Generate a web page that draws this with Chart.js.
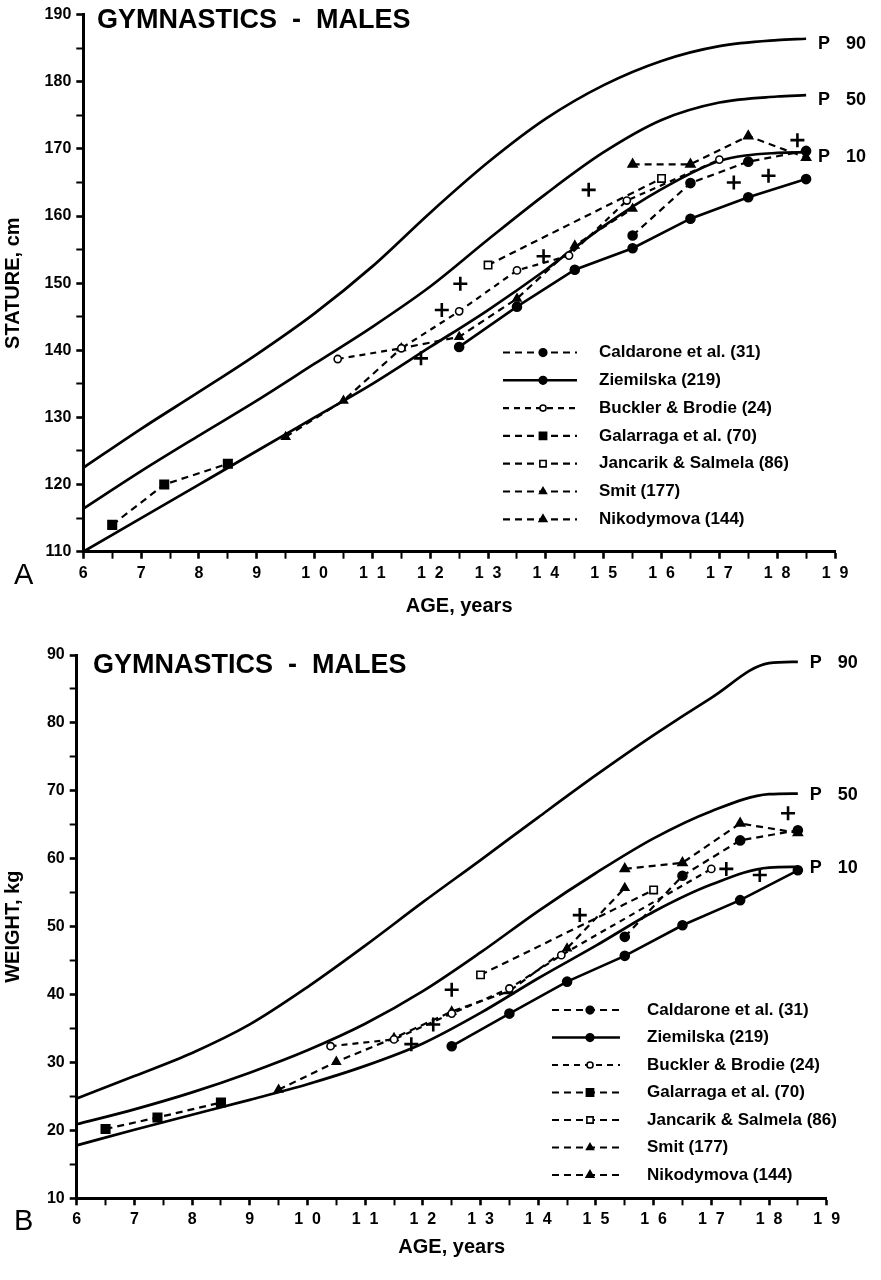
<!DOCTYPE html>
<html>
<head>
<meta charset="utf-8">
<title>Gymnastics - males: stature and weight</title>
<script src="https://cdn.jsdelivr.net/npm/chart.js@4.4.1/dist/chart.umd.min.js"></script>
<style>
  html, body { margin: 0; padding: 0; background: #fff; }
  #wrap { position: relative; width: 881px; height: 1280px; }
  #stature { position: absolute; left: 0; top: 0; }
  #weight { position: absolute; left: 0; top: 640px; }
</style>
</head>
<body>
<div id="wrap">
  <canvas id="stature" width="881" height="630"></canvas>
  <canvas id="weight" width="881" height="640"></canvas>
</div>
<script>
const FONT = '"Liberation Sans", Arial, Helvetica, sans-serif';

// reference percentile curves
const pctAges = [6, 7, 8, 9, 10, 11, 12, 13, 14, 15, 16, 17, 18, 18.5];
const pctNames = ['90', '50', '10'];

const statureP90 = [122.5, 128.3, 133.8, 139.4, 145.5, 152.5, 160.5, 168, 174.5, 179.5, 183.1, 185.3, 186.2, 186.4];
const statureP50 = [116.4, 122, 127.3, 132.5, 138, 143.5, 149.5, 156.5, 163.3, 169.5, 174.3, 176.9, 177.8, 178];
const statureP10 = [110, 115, 120, 125, 130, 135, 140.5, 146, 152, 158.5, 164, 168.2, 169.4, 169.5];

const weightP90 = [24.7, 28, 31.4, 35.6, 41.1, 47.2, 53.6, 59.8, 66.1, 72.3, 78.2, 83.7, 88.8, 89];
const weightP50 = [20.9, 23.1, 25.6, 28.5, 31.8, 35.7, 40.5, 46.2, 52.3, 57.9, 63, 67, 69.5, 69.6];
const weightP10 = [17.8, 20.1, 22.3, 24.5, 26.8, 29.5, 32.8, 37.3, 42.4, 47.2, 52.2, 56.2, 58.7, 58.8];

const studyNames = [
  'Caldarone et al. (31)',
  'Ziemilska (219)',
  'Buckler & Brodie (24)',
  'Galarraga et al. (70)',
  'Jancarik & Salmela (86)',
  'Smit (177)',
  'Nikodymova (144)'
];

// stature samples (age, cm)
const stCaldaroneAge = [15.5, 16.5, 17.5, 18.5];
const stCaldarone = [157.1, 164.9, 168.1, 169.7];
const stZiemilskaAge = [12.5, 13.5, 14.5, 15.5, 16.5, 17.5, 18.5];
const stZiemilska = [140.5, 146.5, 152, 155.2, 159.6, 162.8, 165.5];
const stBucklerAge = [10.4, 11.5, 12.5, 13.5, 14.4, 15.4, 17];
const stBuckler = [138.7, 140.3, 145.8, 151.9, 154.1, 162.3, 168.4];
const stGalarragaAge = [6.5, 7.4, 8.5];
const stGalarraga = [114, 120, 123.1];
const stJancarikAge = [13, 16];
const stJancarik = [152.7, 165.6];
const stSmitAge = [9.5, 10.5, 11.5, 12.5, 13.5, 14.5, 15.5];
const stSmit = [127.1, 132.5, 140.3, 142, 147.7, 155.6, 161.1];
const stNikodymovaAge = [15.5, 16.5, 17.5, 18.5];
const stNikodymova = [167.7, 167.7, 171.9, 168.7];
const stCrossAge = [11.84, 12.2, 12.52, 13.96, 14.74, 17.25, 17.85, 18.35];
const stCross = [138.8, 146, 149.9, 154, 163.9, 165, 166, 171.3];

// weight samples (age, kg)
const wtCaldaroneAge = [15.5, 16.5, 17.5, 18.5];
const wtCaldarone = [48.5, 57.5, 62.7, 64.2];
const wtZiemilskaAge = [12.5, 13.5, 14.5, 15.5, 16.5, 17.5, 18.5];
const wtZiemilska = [32.4, 37.2, 41.9, 45.7, 50.2, 53.9, 58.3];
const wtBucklerAge = [10.4, 11.5, 12.5, 13.5, 14.4, 17];
const wtBuckler = [32.4, 33.4, 37.2, 40.9, 45.8, 58.5];
const wtGalarragaAge = [6.5, 7.4, 8.5];
const wtGalarraga = [20.2, 21.9, 24.1];
const wtJancarikAge = [13, 16];
const wtJancarik = [42.9, 55.4];
const wtSmitAge = [9.5, 10.5, 11.5, 12.5, 13.5, 14.5, 15.5];
const wtSmit = [26, 30.1, 33.6, 37.5, 40.5, 46.8, 55.7];
const wtNikodymovaAge = [15.5, 16.5, 17.5, 18.5];
const wtNikodymova = [58.5, 59.4, 65.2, 63.8];
const wtCrossAge = [11.8, 12.18, 12.5, 14.72, 17.26, 17.84, 18.33];
const wtCross = [32.7, 35.6, 40.7, 51.7, 58.5, 57.6, 66.7];

// marker / line style per study, same order as studyNames
const studyStyles = [
  { dash: [7, 5], pointStyle: 'circle', radius: 4.5, fill: '#000' },
  { dash: [], pointStyle: 'circle', radius: 4.5, fill: '#000' },
  { dash: [6, 5], pointStyle: 'circle', radius: 3.6, fill: '#fff' },
  { dash: [7, 5], pointStyle: 'rect', radius: 6, fill: '#000' },
  { dash: [7, 5], pointStyle: 'rect', radius: 5.2, fill: '#fff' },
  { dash: [7, 5], pointStyle: 'triangle', radius: 4.6, fill: '#000' },
  { dash: [7, 5], pointStyle: 'triangle', radius: 5.2, fill: '#000' }
];

function pts(xs, ys) {
  return xs.map((x, i) => ({ x: x, y: ys[i] }));
}

function buildDatasets(curves, studies, crossAges, crossVals) {
  const sets = [];
  studies.forEach((s, i) => {
    const st = studyStyles[i];
    sets.push({
      label: studyNames[i],
      data: pts(s[0], s[1]),
      showLine: true,
      borderColor: '#000',
      borderWidth: i === 1 ? 2.6 : 2.2,
      borderDash: st.dash,
      tension: 0,
      pointStyle: st.pointStyle,
      pointRadius: st.radius,
      pointBackgroundColor: st.fill,
      pointBorderColor: '#000',
      pointBorderWidth: 1.6
    });
  });
  sets.push({
    data: pts(crossAges, crossVals),
    showLine: false,
    pointStyle: 'cross',
    pointRadius: 7,
    pointBorderWidth: 2.6,
    pointBorderColor: '#000'
  });
  curves.forEach((vals, i) => {
    sets.push({
      pLabel: pctNames[i],
      data: pts(pctAges, vals),
      showLine: true,
      borderColor: '#000',
      borderWidth: 2.7,
      pointRadius: 0,
      tension: 0.4,
      cubicInterpolationMode: 'monotone'
    });
  });
  return sets;
}

// heading, panel letter, percentile tags and the legend block
const annotate = {
  id: 'annotate',
  afterDraw(chart, args, opts) {
    const { ctx } = chart;
    const xs = chart.scales.x, ys = chart.scales.y;
    ctx.save();
    ctx.fillStyle = '#000';
    ctx.strokeStyle = '#000';
    ctx.textAlign = 'left';

    ctx.textBaseline = 'alphabetic';
    ctx.font = 'bold 27px ' + FONT;
    ctx.fillText(opts.heading, opts.headingX, opts.headingY);
    ctx.font = '29px ' + FONT;
    ctx.fillText(opts.panel, opts.panelX, opts.panelY);

    ctx.textBaseline = 'middle';
    ctx.font = 'bold 18px ' + FONT;
    chart.data.datasets.forEach(ds => {
      if (!ds.pLabel) return;
      const last = ds.data[ds.data.length - 1];
      const px = xs.getPixelForValue(last.x);
      const py = ys.getPixelForValue(last.y) + opts.pShift;
      ctx.fillText('P', px + 12, py);
      ctx.fillText(ds.pLabel, px + 40, py);
    });

    const lg = opts.legend;
    let row = 0;
    chart.data.datasets.forEach(ds => {
      if (!ds.label) return;
      const y = lg.y + row * lg.step;
      ctx.lineWidth = ds.borderWidth;
      ctx.setLineDash(ds.borderDash || []);
      ctx.beginPath();
      ctx.moveTo(lg.x0, y);
      ctx.lineTo(lg.x1, y);
      ctx.stroke();
      ctx.setLineDash([]);
      ctx.fillStyle = ds.pointBackgroundColor;
      ctx.lineWidth = ds.pointBorderWidth;
      Chart.helpers.drawPoint(ctx, {
        pointStyle: ds.pointStyle,
        radius: ds.pointRadius * 0.85,
        borderWidth: ds.pointBorderWidth,
        rotation: 0
      }, lg.mark, y);
      ctx.fillStyle = '#000';
      ctx.font = 'bold 17px ' + FONT;
      ctx.fillText(ds.label, lg.text, y);
      row++;
    });
    ctx.restore();
  }
};

function makeScales(yMin, yMax, yTitle, yWidth, titlePad) {
  const tickFont = { family: FONT, size: 16, weight: 'bold' };
  const titleFont = { family: FONT, size: 20, weight: 'bold' };
  return {
    x: {
      type: 'linear',
      min: 6,
      max: 19,
      afterFit: s => { s.height = 70; },
      border: { display: true, color: '#000', width: 3 },
      grid: {
        drawOnChartArea: false,
        tickLength: 7,
        tickColor: '#000',
        tickWidth: c => Number.isInteger(c.tick.value) ? 2.6 : 2
      },
      ticks: {
        stepSize: 0.5,
        autoSkip: false,
        maxRotation: 0,
        padding: 5,
        color: '#000',
        font: tickFont,
        callback: v => Number.isInteger(v) ? String(v).split('').join('  ') : ''
      },
      title: {
        display: true,
        text: 'AGE, years',
        color: '#000',
        font: titleFont,
        padding: { top: 0, bottom: titlePad }
      }
    },
    y: {
      type: 'linear',
      min: yMin,
      max: yMax,
      afterFit: s => { s.width = yWidth; },
      border: { display: true, color: '#000', width: 3 },
      grid: {
        drawOnChartArea: false,
        tickLength: 7,
        tickColor: '#000',
        tickWidth: c => c.tick.value % 10 === 0 ? 2.6 : 2
      },
      ticks: {
        stepSize: 5,
        autoSkip: false,
        padding: 5,
        color: '#000',
        font: tickFont,
        callback: v => v % 10 === 0 ? String(v) : ''
      },
      title: {
        display: true,
        text: yTitle,
        color: '#000',
        font: titleFont,
        padding: { top: 1, bottom: 0 }
      }
    }
  };
}

Chart.defaults.animation = false;

new Chart(document.getElementById('stature'), {
  type: 'scatter',
  data: {
    datasets: buildDatasets(
      [statureP90, statureP50, statureP10],
      [
        [stCaldaroneAge, stCaldarone],
        [stZiemilskaAge, stZiemilska],
        [stBucklerAge, stBuckler],
        [stGalarragaAge, stGalarraga],
        [stJancarikAge, stJancarik],
        [stSmitAge, stSmit],
        [stNikodymovaAge, stNikodymova]
      ],
      stCrossAge, stCross)
  },
  options: {
    responsive: false,
    devicePixelRatio: 1,
    layout: { padding: { left: 0, top: 12.7, right: 46, bottom: 8.3 } },
    scales: makeScales(110, 190, 'STATURE, cm', 83.3, 3.7),
    plugins: {
      legend: { display: false },
      tooltip: { enabled: false },
      annotate: {
        heading: 'GYMNASTICS  -  MALES',
        headingX: 97, headingY: 28,
        panel: 'A', panelX: 14, panelY: 584,
        pShift: 5,
        legend: { x0: 503, x1: 577, mark: 543, text: 599, y: 352.5, step: 27.8 }
      }
    }
  },
  plugins: [annotate]
});

new Chart(document.getElementById('weight'), {
  type: 'scatter',
  data: {
    datasets: buildDatasets(
      [weightP90, weightP50, weightP10],
      [
        [wtCaldaroneAge, wtCaldarone],
        [wtZiemilskaAge, wtZiemilska],
        [wtBucklerAge, wtBuckler],
        [wtGalarragaAge, wtGalarraga],
        [wtJancarikAge, wtJancarik],
        [wtSmitAge, wtSmit],
        [wtNikodymovaAge, wtNikodymova]
      ],
      wtCrossAge, wtCross)
  },
  options: {
    responsive: false,
    devicePixelRatio: 1,
    layout: { padding: { left: 0, top: 15, right: 54.3, bottom: 11.7 } },
    scales: makeScales(10, 90, 'WEIGHT, kg', 76.7, 9.3),
    plugins: {
      legend: { display: false },
      tooltip: { enabled: false },
      annotate: {
        heading: 'GYMNASTICS  -  MALES',
        headingX: 93, headingY: 33,
        panel: 'B', panelX: 14, panelY: 590,
        pShift: 1,
        legend: { x0: 552, x1: 620, mark: 590, text: 647, y: 370, step: 27.5 }
      }
    }
  },
  plugins: [annotate]
});
</script>
</body>
</html>
